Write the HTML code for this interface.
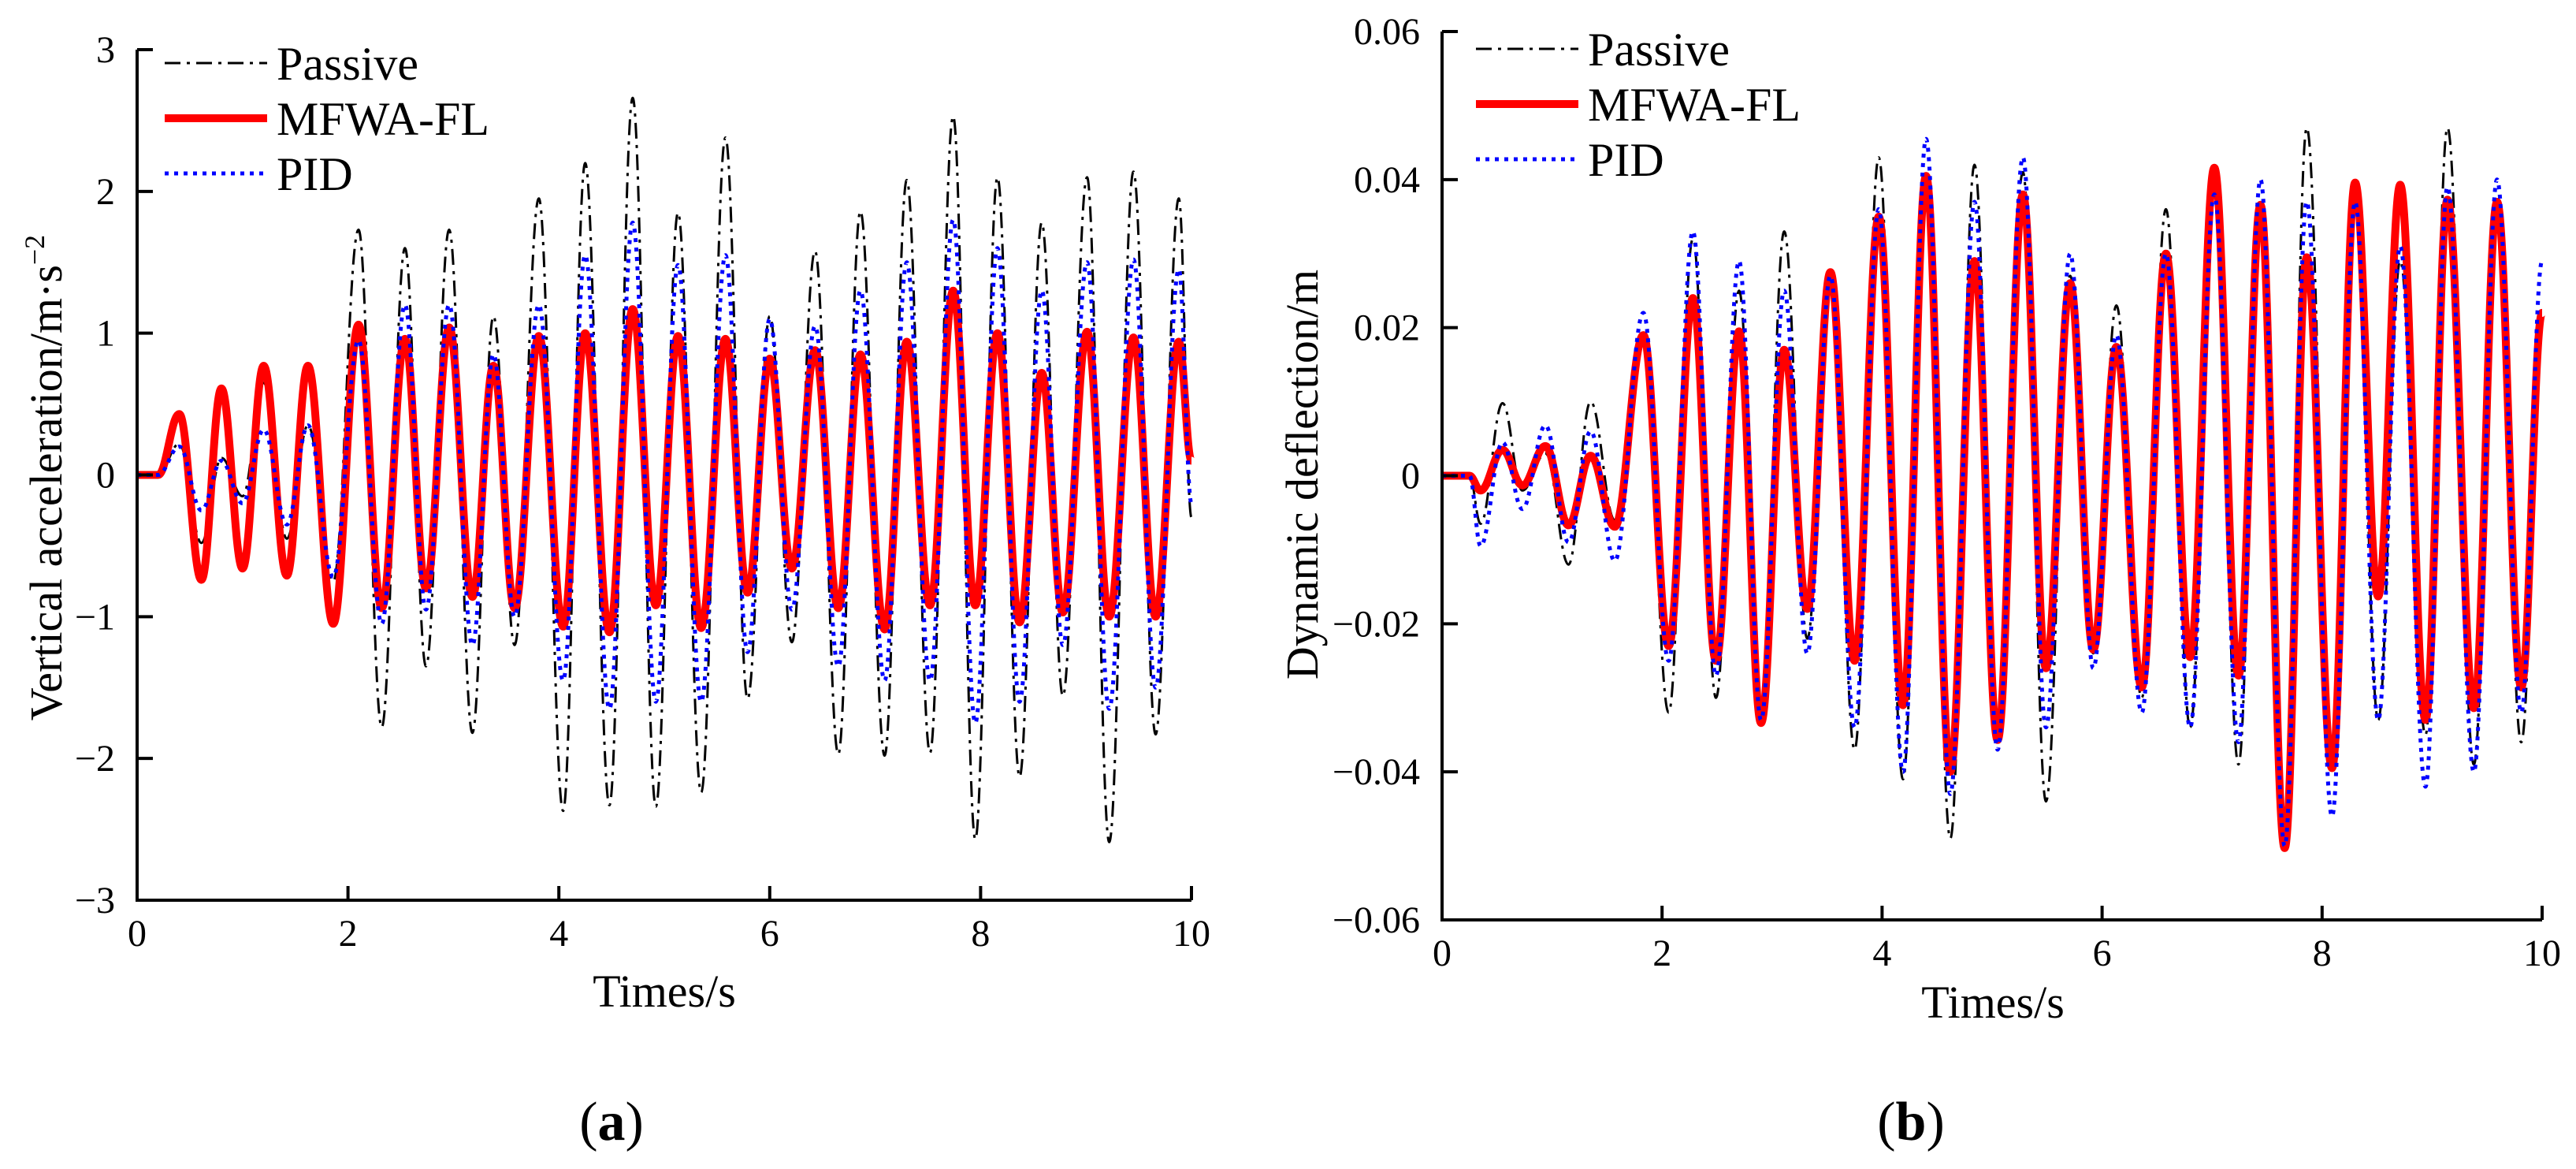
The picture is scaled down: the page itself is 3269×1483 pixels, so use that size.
<!DOCTYPE html>
<html><head><meta charset="utf-8"><style>
html,body{margin:0;padding:0;background:#fff;}
svg{display:block;font-family:"Liberation Serif","DejaVu Serif",serif;}
svg text{font-family:"Liberation Serif","DejaVu Serif",serif;}
</style></head><body>
<svg id="fig" width="3269" height="1483" viewBox="0 0 3269 1483" font-family="Liberation Serif, serif" xmlns="http://www.w3.org/2000/svg"></svg>
<script>
// ---------- Panel (a) data: extrema times and values ----------
const aTimes = [0,0.2,0.40,0.61,0.80,1.00,1.20,1.42,1.62,1.86,2.10,2.32,2.54,2.74,2.96,3.18,3.38,3.58,3.81,4.04,4.25,4.48,4.70,4.92,5.13,5.35,5.58,5.79,6.00,6.21,6.43,6.65,6.86,7.09,7.30,7.52,7.74,7.95,8.16,8.37,8.58,8.78,9.01,9.22,9.45,9.66,9.88,10];
const aPassive = [0,0,0.22,-0.48,0.12,-0.15,0.65,-0.45,0.35,-0.75,1.73,-1.78,1.60,-1.35,1.73,-1.82,1.12,-1.20,1.95,-2.37,2.20,-2.33,2.66,-2.34,1.85,-2.24,2.38,-1.58,1.12,-1.18,1.58,-1.97,1.86,-1.98,2.08,-1.96,2.53,-2.57,2.10,-2.13,1.78,-1.56,2.10,-2.59,2.14,-1.83,1.95,-0.30];
const aMFWA = [0,0,0.43,-0.74,0.61,-0.66,0.77,-0.71,0.77,-1.05,1.06,-0.94,0.96,-0.80,1.04,-0.86,0.77,-0.94,0.98,-1.07,1.00,-1.11,1.17,-0.92,0.98,-1.08,0.96,-0.83,0.82,-0.66,0.88,-0.94,0.85,-1.09,0.94,-0.92,1.30,-0.92,1.00,-1.04,0.72,-0.97,1.01,-1.00,0.97,-1.00,0.94,0.10];
const aPID = [0,0,0.20,-0.25,0.10,-0.20,0.32,-0.35,0.35,-0.72,0.95,-1.05,1.20,-0.95,1.20,-1.20,0.85,-1.00,1.20,-1.45,1.55,-1.65,1.78,-1.60,1.48,-1.60,1.55,-1.25,1.10,-0.95,1.05,-1.35,1.30,-1.45,1.50,-1.45,1.80,-1.75,1.60,-1.60,1.30,-1.20,1.50,-1.65,1.52,-1.50,1.45,-0.20];
const aXTicks = [0,2,4,6,8,10];
const aYTicks = [-3,-2,-1,0,1,2,3];
const aYTickLabels = ["\u22123","\u22122","\u22121","0","1","2","3"];

// ---------- Panel (b) data ----------
const bTimes = [0,0.25,0.35,0.55,0.73,0.94,1.15,1.35,1.57,1.83,2.06,2.28,2.49,2.70,2.90,3.11,3.32,3.53,3.75,3.97,4.19,4.40,4.62,4.84,5.05,5.28,5.49,5.71,5.92,6.13,6.36,6.58,6.80,7.02,7.24,7.44,7.66,7.86,8.09,8.30,8.51,8.71,8.94,9.14,9.38,9.59,9.81,10];
const bPassive = [0,0,-0.0065,0.0098,-0.002,0.003,-0.012,0.010,-0.006,0.019,-0.032,0.032,-0.030,0.025,-0.033,0.033,-0.022,0.027,-0.037,0.043,-0.041,0.039,-0.049,0.042,-0.035,0.041,-0.044,0.027,-0.024,0.023,-0.030,0.036,-0.034,0.038,-0.039,0.037,-0.050,0.047,-0.037,0.038,-0.033,0.029,-0.035,0.047,-0.039,0.036,-0.036,0.020];
const bMFWA = [0,0,-0.002,0.0035,-0.0013,0.004,-0.0067,0.0027,-0.0069,0.019,-0.023,0.024,-0.025,0.0195,-0.0334,0.017,-0.018,0.0275,-0.025,0.035,-0.031,0.0405,-0.040,0.029,-0.0357,0.038,-0.026,0.026,-0.0235,0.0174,-0.0286,0.030,-0.0245,0.0416,-0.027,0.0366,-0.0503,0.0295,-0.0395,0.0396,-0.0163,0.0393,-0.033,0.0373,-0.0314,0.037,-0.0286,0.022];
const bPID = [0,0,-0.0095,0.0045,-0.0045,0.0068,-0.009,0.006,-0.0115,0.022,-0.025,0.033,-0.027,0.029,-0.033,0.025,-0.024,0.027,-0.034,0.036,-0.040,0.0455,-0.043,0.037,-0.037,0.043,-0.034,0.030,-0.026,0.019,-0.032,0.030,-0.034,0.038,-0.036,0.040,-0.050,0.037,-0.046,0.037,-0.033,0.031,-0.042,0.039,-0.040,0.040,-0.032,0.029];
const bXTicks = [0,2,4,6,8,10];
const bYTicks = [-0.06,-0.04,-0.02,0,0.02,0.04,0.06];
const bYTickLabels = ["\u22120.06","\u22120.04","\u22120.02","0","0.02","0.04","0.06"];

const NS = "http://www.w3.org/2000/svg";
const svg = document.getElementById('fig');
function mk(tag, attrs, parent){
  const e = document.createElementNS(NS, tag);
  for (const k in attrs) e.setAttribute(k, attrs[k]);
  (parent||svg).appendChild(e);
  return e;
}
function smoothPath(ts, vs, sx, sy){
  let d = "M" + sx(ts[0]).toFixed(1) + "," + sy(vs[0]).toFixed(1);
  for (let i=1;i<ts.length;i++){
    const x0=sx(ts[i-1]), y0=sy(vs[i-1]), x1=sx(ts[i]), y1=sy(vs[i]);
    const dx=(x1-x0)/2.6;
    d += " C"+(x0+dx).toFixed(1)+","+y0.toFixed(1)+" "+(x1-dx).toFixed(1)+","+y1.toFixed(1)+" "+x1.toFixed(1)+","+y1.toFixed(1);
  }
  return d;
}
const styles = {
  passive:{stroke:"#000","stroke-width":3,"stroke-dasharray":"20 8 4 8"},
  mfwa:{stroke:"#ff0000","stroke-width":10},
  pid:{stroke:"#0000ff","stroke-width":5,"stroke-dasharray":"5 7"}
};

function panel(cfg){
  const g = mk('g',{});
  
  
  const sx = t => cfg.x0 + (t-cfg.xmin)/(cfg.xmax-cfg.xmin)*(cfg.x1-cfg.x0);
  const sy = v => cfg.y1 - (v-cfg.ymin)/(cfg.ymax-cfg.ymin)*(cfg.y1-cfg.y0);
  const series = [["passive",cfg.passive],["mfwa",cfg.mfwa],["pid",cfg.pid]];
  for (const [key, vals] of series){
    const p = mk('path', Object.assign({d:smoothPath(cfg.times, vals, sx, sy), fill:"none","stroke-linejoin":"round"}, styles[key]), g);
    
    
  }
  const ax = mk('path',{d:"M"+cfg.x0+","+cfg.y0+" L"+cfg.x0+","+cfg.y1+" L"+cfg.x1+","+cfg.y1, fill:"none", stroke:"#000","stroke-width":4}, g);
  
  
  cfg.xticks.forEach(t=>{
    const x=sx(t);
    const tk = mk('line',{x1:x,y1:cfg.y1,x2:x,y2:cfg.y1-18,stroke:"#000","stroke-width":4}, g);
    
    
    const tl = mk('text',{x:x,y:cfg.y1+58,"font-size":48,"text-anchor":"middle"}, g);
    tl.textContent = String(t);
    
    
  });
  cfg.yticks.forEach((v,i)=>{
    const y=sy(v);
    const tk = mk('line',{x1:cfg.x0,y1:y,x2:cfg.x0+20,y2:y,stroke:"#000","stroke-width":4}, g);
    
    
    const tl = mk('text',{x:cfg.x0-28,y:y+16,"font-size":48,"text-anchor":"end"}, g);
    tl.textContent = cfg.ylabels[i];
    
    
  });
  const xt = mk('text',{x:cfg.xtX,y:cfg.xtY,"font-size":58,"text-anchor":"middle"}, g);
  xt.textContent = "Times/s";
  
  
  const yt = mk('text',{x:0,y:0,"font-size":58,"text-anchor":"middle",transform:"translate("+cfg.ytX+","+cfg.ytY+") rotate(-90)"}, g);
  if (cfg.ysup){
    yt.appendChild(document.createTextNode(cfg.ytitle));
    const ts = mk('tspan',{"font-size":36,dy:-22}, yt);
    ts.textContent = cfg.ysup;
  } else yt.textContent = cfg.ytitle;
  
  
  const names = ["Passive","MFWA-FL","PID"];
  series.forEach(([key],i)=>{
    const ly = cfg.legY + i*70;
    const ln = mk('line', Object.assign({x1:cfg.legX,y1:ly,x2:cfg.legX+130,y2:ly}, styles[key]), g);
    
    
    const lt = mk('text',{x:cfg.legX+142,y:ly+21,"font-size":60}, g);
    lt.textContent = names[i];
    
    
  });
  const pl = mk('text',{x:cfg.plX,y:cfg.plY,"font-size":70,"text-anchor":"middle"}, g);
  pl.appendChild(document.createTextNode("("));
  const b = mk('tspan',{"font-weight":"bold"}, pl); b.textContent = cfg.letter;
  pl.appendChild(document.createTextNode(")"));
  
  
}

panel({name:"chart-a", x0:174,x1:1512,y0:63,y1:1142,xmin:0,xmax:10,ymin:-3,ymax:3,
  times:aTimes,passive:aPassive,mfwa:aMFWA,pid:aPID,xticks:aXTicks,yticks:aYTicks,ylabels:aYTickLabels,
  xtX:843,xtY:1277,ytX:78,ytY:606,ytitle:"Vertical acceleration/m\u00b7s",ysup:"\u22122",
  legX:209,legY:80,plX:776,plY:1446,letter:"a"});
panel({name:"chart-b", x0:1830,x1:3226,y0:40,y1:1167,xmin:0,xmax:10,ymin:-0.06,ymax:0.06,
  times:bTimes,passive:bPassive,mfwa:bMFWA,pid:bPID,xticks:bXTicks,yticks:bYTicks,ylabels:bYTickLabels,
  xtX:2529,xtY:1291,ytX:1672,ytY:602,ytitle:"Dynamic deflection/m",ysup:null,
  legX:1873,legY:62,plX:2425,plY:1446,letter:"b"});
</script>
</body></html>
